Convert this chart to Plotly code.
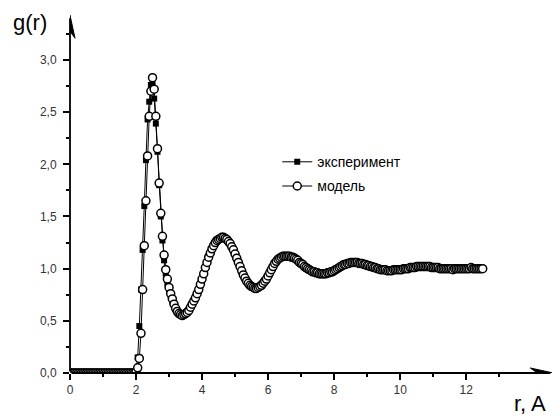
import plotly.graph_objects as go

# Radial grid: start and step of the sampled r values (Angstrom)
r_start = 0.0
r_step = 0.05

# g(r) of the model, one row per 0.5 A
g_model = [
    0.00, 0.00, 0.00, 0.00, 0.00, 0.00, 0.00, 0.00, 0.00, 0.00,
    0.00, 0.00, 0.00, 0.00, 0.00, 0.00, 0.00, 0.00, 0.00, 0.00,
    0.00, 0.00, 0.00, 0.00, 0.00, 0.00, 0.00, 0.00, 0.00, 0.00,
    0.00, 0.00, 0.00, 0.00, 0.00, 0.00, 0.00, 0.00, 0.00, 0.00,
    0.01, 0.05, 0.14, 0.38, 0.80, 1.22, 1.65, 2.08, 2.46, 2.70,
    2.83, 2.72, 2.46, 2.15, 1.82, 1.53, 1.31, 1.13, 0.99, 0.90,
    0.82, 0.76, 0.71, 0.66, 0.62, 0.59, 0.57, 0.56, 0.55, 0.56,
    0.57, 0.58, 0.60, 0.63, 0.66, 0.69, 0.72, 0.76, 0.80, 0.85,
    0.90, 0.95, 1.01, 1.06, 1.11, 1.15, 1.19, 1.22, 1.25, 1.27,
    1.28, 1.29, 1.30, 1.30, 1.29, 1.28, 1.26, 1.24, 1.21, 1.18,
    1.14, 1.10, 1.06, 1.02, 0.98, 0.94, 0.91, 0.88, 0.86, 0.84,
    0.83, 0.82, 0.81, 0.81, 0.82, 0.83, 0.84, 0.86, 0.88, 0.90,
    0.93, 0.96, 0.99, 1.02, 1.05, 1.07, 1.09, 1.10, 1.11, 1.12,
    1.12, 1.12, 1.12, 1.12, 1.11, 1.11, 1.10, 1.09, 1.08, 1.06,
    1.05, 1.04, 1.02, 1.01, 1.00, 0.99, 0.98, 0.97, 0.97, 0.96,
    0.96, 0.95, 0.95, 0.95, 0.95, 0.95, 0.96, 0.96, 0.97, 0.97,
    0.98, 0.99, 1.00, 1.01, 1.02, 1.03, 1.04, 1.04, 1.05, 1.05,
    1.06, 1.06, 1.06, 1.06, 1.06, 1.05, 1.05, 1.05, 1.04, 1.04,
    1.03, 1.03, 1.02, 1.02, 1.01, 1.01, 1.00, 1.00, 0.99, 0.99,
    0.99, 0.99, 0.98, 0.98, 0.98, 0.98, 0.99, 0.99, 0.99, 0.99,
    0.99, 0.99, 1.00, 1.00, 1.00, 1.00, 1.01, 1.01, 1.01, 1.01,
    1.02, 1.02, 1.02, 1.02, 1.02, 1.02, 1.02, 1.02, 1.02, 1.01,
    1.01, 1.01, 1.01, 1.01, 1.00, 1.00, 1.00, 1.00, 1.00, 1.00,
    1.00, 1.00, 0.99, 1.00, 1.00, 1.00, 1.00, 1.00, 1.00, 1.00,
    1.00, 1.00, 1.00, 1.01, 1.00, 1.00, 1.00, 1.00, 1.00, 1.00,
    1.00,
]

# Measured g(r), same grid
g_exp = [
    0.00, 0.00, 0.00, 0.00, 0.00, 0.00, 0.00, 0.00, 0.00, 0.00,
    0.00, 0.00, 0.00, 0.00, 0.00, 0.00, 0.00, 0.00, 0.00, 0.00,
    0.00, 0.00, 0.00, 0.00, 0.00, 0.00, 0.00, 0.00, 0.00, 0.00,
    0.00, 0.00, 0.00, 0.00, 0.00, 0.00, 0.00, 0.00, 0.00, 0.00,
    0.02, 0.15, 0.45, 0.80, 1.18, 1.60, 2.04, 2.43, 2.60, 2.76,
    2.78, 2.63, 2.39, 2.12, 1.80, 1.50, 1.27, 1.08, 0.95, 0.86,
    0.80, 0.74, 0.69, 0.65, 0.61, 0.58, 0.57, 0.56, 0.56, 0.56,
    0.57, 0.59, 0.61, 0.63, 0.66, 0.69, 0.73, 0.77, 0.81, 0.85,
    0.90, 0.96, 1.01, 1.06, 1.10, 1.15, 1.18, 1.22, 1.24, 1.26,
    1.28, 1.29, 1.29, 1.29, 1.29, 1.27, 1.26, 1.23, 1.20, 1.17,
    1.13, 1.09, 1.05, 1.01, 0.97, 0.94, 0.91, 0.88, 0.85, 0.84,
    0.82, 0.82, 0.81, 0.81, 0.82, 0.83, 0.85, 0.87, 0.89, 0.91,
    0.94, 0.97, 1.00, 1.03, 1.05, 1.07, 1.09, 1.10, 1.11, 1.11,
    1.12, 1.12, 1.12, 1.11, 1.11, 1.10, 1.10, 1.09, 1.07, 1.06,
    1.04, 1.03, 1.02, 1.00, 0.99, 0.98, 0.98, 0.97, 0.96, 0.96,
    0.95, 0.95, 0.95, 0.95, 0.95, 0.96, 0.96, 0.97, 0.97, 0.98,
    0.99, 1.00, 1.00, 1.01, 1.02, 1.03, 1.04, 1.04, 1.05, 1.05,
    1.05, 1.06, 1.06, 1.06, 1.05, 1.05, 1.05, 1.04, 1.04, 1.03,
    1.03, 1.02, 1.02, 1.01, 1.01, 1.00, 1.00, 0.99, 0.99, 0.99,
    0.99, 0.98, 0.98, 0.98, 0.98, 0.99, 0.99, 0.99, 0.99, 0.99,
    1.00, 1.00, 1.00, 1.00, 1.01, 1.01, 1.01, 1.01, 1.02, 1.02,
    1.02, 1.02, 1.02, 1.02, 1.02, 1.02, 1.01, 1.01, 1.01, 1.01,
    1.01, 1.01, 1.00, 1.00, 1.00, 1.00, 1.00, 1.00, 1.00, 1.00,
    1.00, 0.99, 1.00, 1.00, 1.00, 1.00, 1.00, 1.00, 1.00, 1.00,
    1.00, 1.00, 1.01, 1.00, 1.00, 1.00, 1.00, 1.00, 1.00, 1.00,
    1.00,
]

r = [round(r_start + r_step * i, 2) for i in range(len(g_model))]

x_ticks = [0, 2, 4, 6, 8, 10, 12]
x_minor = [1, 3, 5, 7, 9, 11, 13]
y_ticks = [0.0, 0.5, 1.0, 1.5, 2.0, 2.5, 3.0]

series_names = ["эксперимент", "модель"]

FONT = "Liberation Sans, Arial, sans-serif"

# Ends of the drawn axis lines (data units)
x_axis_end = 14.55
y_axis_end = 3.4

fig = go.Figure()

fig.add_trace(go.Scatter(
    x=r, y=g_exp, name=series_names[0], legendgroup="exp",
    mode="lines+markers",
    line=dict(color="black", width=1),
    marker=dict(symbol="square", size=6, color="black",
                line=dict(color="black", width=0)),
))
fig.add_trace(go.Scatter(
    x=r, y=g_model, name=series_names[1], legendgroup="model",
    mode="lines+markers",
    line=dict(color="black", width=1),
    marker=dict(symbol="circle", size=8, color="white",
                line=dict(color="black", width=1.5)),
))

axis_common = dict(
    showgrid=False, zeroline=False, showline=False,
    ticks="outside", tickcolor="black", tickwidth=1.5, ticklen=6,
    tickfont=dict(family=FONT, size=12, color="#333333"),
)

fig.update_xaxes(
    range=[0, 14.6], tickmode="array", tickvals=x_ticks,
    minor=dict(tickvals=x_minor, ticks="outside", ticklen=3,
               tickcolor="black", tickwidth=1.5),
    **axis_common,
)
fig.update_yaxes(
    range=[0, 3.45], tickmode="array", tickvals=y_ticks, tickformat=".1f",
    ticklabelstandoff=4,
    minor=dict(dtick=0.25, tick0=0, ticks="outside", ticklen=3,
               tickcolor="black", tickwidth=1.5),
    **axis_common,
)

# Axis lines
fig.add_annotation(x=x_axis_end, y=0, ax=0, ay=0, xref="x", yref="y",
                   axref="x", ayref="y", text="", showarrow=True,
                   arrowhead=0, arrowwidth=1.8, arrowcolor="black")
fig.add_annotation(x=0, y=y_axis_end, ax=0, ay=0, xref="x", yref="y",
                   axref="x", ayref="y", text="", showarrow=True,
                   arrowhead=0, arrowwidth=1.8, arrowcolor="black")

# Narrow arrowheads at the axis ends, sized in pixels
fig.add_shape(type="path", xref="x", yref="y",
              xsizemode="pixel", ysizemode="pixel",
              xanchor=x_axis_end, yanchor=0,
              path="M 3,0 L -20,5 L -13,0 L -20,-5 Z",
              fillcolor="black", line=dict(color="black", width=1))
fig.add_shape(type="path", xref="x", yref="y",
              xsizemode="pixel", ysizemode="pixel",
              xanchor=0, yanchor=y_axis_end,
              path="M 0,3 L 5,-20 L 0,-13 L -5,-20 Z",
              fillcolor="black", line=dict(color="black", width=1))

# Axis titles
fig.add_annotation(text="g(r)", xref="paper", yref="paper", x=-0.083, y=0.975,
                   xanchor="center", yanchor="middle", showarrow=False,
                   font=dict(family=FONT, size=22, color="black"))
fig.add_annotation(text="r, A", xref="paper", yref="paper", x=0.955, y=-0.085,
                   xanchor="center", yanchor="middle", showarrow=False,
                   font=dict(family=FONT, size=22, color="black"))

fig.update_layout(
    width=558, height=419,
    margin=dict(l=70, r=6, t=13, b=46),
    paper_bgcolor="white", plot_bgcolor="white",
    separators=", ",
    showlegend=True,
    legend=dict(x=0.43, y=0.63, xanchor="left", yanchor="top",
                bgcolor="rgba(0,0,0,0)", tracegroupgap=3,
                font=dict(family=FONT, size=14, color="black")),
)

fig.write_html("out.html")
